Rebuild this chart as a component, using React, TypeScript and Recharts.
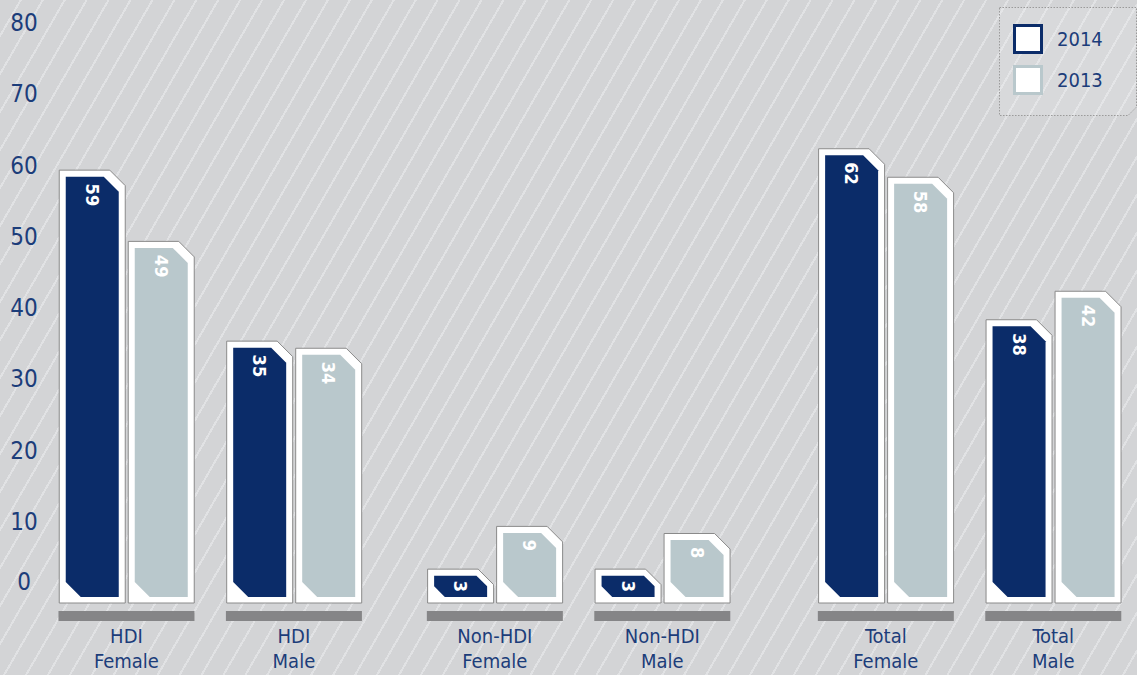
import { BarChart, Bar, XAxis, YAxis, LabelList, Legend } from "recharts";

const categories = ["HDI\nFemale", "HDI\nMale", "Non-HDI\nFemale", "Non-HDI\nMale", "Total\nFemale", "Total\nMale"];
const values2014 = [59, 35, 3, 3, 62, 38];
const values2013 = [49, 34, 9, 8, 58, 42];
const yTicks = [0, 10, 20, 30, 40, 50, 60, 70, 80];

const NAVY = "#0b2c69";
const PALE = "#b9c8cc";
const TEXT = "#1c3d7a";
const FONT = "'Liberation Sans Narrow', 'DejaVu Sans Condensed', 'Roboto Condensed', sans-serif";
// extra space before each pair of groups, in category units
const PAIR_OFFSET = [0, 0.2, 0.535];

const data = categories.map((name, i) => ({
  name,
  pos: i + PAIR_OFFSET[Math.floor(i / 2)],
  y2014: values2014[i],
  y2013: values2013[i],
}));
const positions = data.map((d) => d.pos);

function FramedBar(props: any) {
  const { x, y, width, height, fill } = props;
  if (width == null || height == null) return null;
  const top = y - 7;
  const bottom = y + height + 6;
  const c = 16;
  const frame = `M${x + 0.5},${bottom} V${top + 0.5} H${x + width - c} L${x + width - 0.5},${top + c} V${bottom} Z`;
  const l = x + 7;
  const r = x + width - 7;
  const c2 = Math.min(15, height / 2);
  const inner = `M${l},${y} H${r - c2} L${r},${y + c2} V${y + height} H${l + c2} L${l},${y + height - c2} Z`;
  return (
    <g>
      <path d={frame} fill="#fff" stroke="#8a8a8a" strokeWidth={1} />
      <path d={inner} fill={fill} />
    </g>
  );
}

function ValueLabel(props: any) {
  const { x, y, width, height, value } = props;
  const cx = x + width / 2;
  const small = height < 30;
  const ty = small ? y + height / 2 : y + 7;
  return (
    <text
      x={cx}
      y={ty}
      fill="#fff"
      fontFamily={FONT}
      fontWeight={700}
      fontSize={18}
      textAnchor={small ? "middle" : "start"}
      dominantBaseline="central"
      transform={`rotate(90 ${cx} ${ty})`}
    >
      {value}
    </text>
  );
}

function CategoryTick(props: any) {
  const { x, y, payload } = props;
  const idx = positions.indexOf(payload.value);
  const lines = (categories[idx] || "").split("\n");
  return (
    <g>
      <rect x={x - 68} y={y + 14} width={136} height={10} fill="#858587" />
      {lines.map((t, i) => (
        <text key={i} x={x} y={y + 46 + i * 25} textAnchor="middle" fill={TEXT} fontFamily={FONT} fontSize={20}>
          {t}
        </text>
      ))}
    </g>
  );
}

function ValueTick(props: any) {
  const { x, y, payload } = props;
  const shift = payload.value === 0 ? -15 : -4;
  return (
    <text x={x + 6} y={y + shift + 8} textAnchor="middle" fill={TEXT} fontFamily={FONT} fontSize={24}>
      {payload.value}
    </text>
  );
}

function LegendBox(props: any) {
  const items = [...(props.payload || [])].sort((a: any, b: any) => String(b.value).localeCompare(String(a.value)));
  return (
    <svg width={138} height={109} style={{ display: "block" }}>
      <path
        d="M0.5,0.5 H137.5 V100 L129,108.5 H0.5 Z"
        fill="rgba(255,255,255,0.12)"
        stroke="#9a9a9a"
        strokeDasharray="1.5 1.5"
      />
      {items.map((it: any, i: number) => (
        <g key={i}>
          <rect x={15.5} y={18.5 + i * 41} width={27} height={27} fill="#fff" stroke={it.color} strokeWidth={3} />
          <text x={58} y={39 + i * 41} fill={TEXT} fontFamily={FONT} fontSize={20}>
            {it.value}
          </text>
        </g>
      ))}
    </svg>
  );
}

export default function App() {
  return (
    <div
      style={{
        position: "absolute",
        left: 0,
        top: 0,
        width: 1137,
        height: 675,
        background: "repeating-linear-gradient(120deg, #d3d4d6 0px, #d3d4d6 17px, #e1e2e4 17px, #e1e2e4 19px)",
      }}
    >
      <BarChart width={1137} height={675} data={data} margin={{ top: 27, right: 0, bottom: 0, left: 0 }} barGap={2}>
        <XAxis
          dataKey="pos"
          type="number"
          domain={[-0.6, 6.035]}
          ticks={positions}
          interval={0}
          allowDataOverflow
          axisLine={false}
          tickLine={false}
          tickSize={0}
          tickMargin={0}
          height={78}
          tick={<CategoryTick />}
        />
        <YAxis
          domain={[0, 80]}
          ticks={yTicks}
          interval={0}
          width={26}
          axisLine={false}
          tickLine={false}
          tick={<ValueTick />}
        />
        <Legend
          layout="horizontal"
          verticalAlign="middle"
          align="center"
          content={<LegendBox />}
          wrapperStyle={{ top: 7, left: 999, width: 138, height: 109 }}
        />
        <Bar dataKey="y2014" name="2014" fill={NAVY} barSize={67} shape={<FramedBar />} isAnimationActive={false}>
          <LabelList dataKey="y2014" content={<ValueLabel />} />
        </Bar>
        <Bar dataKey="y2013" name="2013" fill={PALE} barSize={67} shape={<FramedBar />} isAnimationActive={false}>
          <LabelList dataKey="y2013" content={<ValueLabel />} />
        </Bar>
      </BarChart>
    </div>
  );
}
